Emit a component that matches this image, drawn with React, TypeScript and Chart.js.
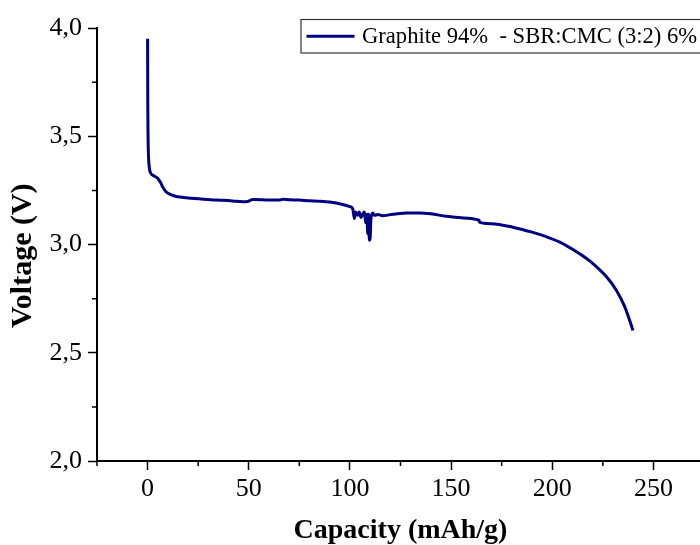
import React, { useEffect, useRef } from 'react';
import { Chart, registerables } from 'chart.js';

Chart.register(...registerables);

const capacity = [
  0, 0.05, 0.1, 0.2, 0.4, 0.8, 1.5, 3, 5, 6.5, 7.5, 9, 10.7, 13, 15.7, 20, 25.6, 31, 37, 42, 47, 49.5, 52,
  55, 60, 65, 67, 70, 75, 80, 85, 90, 96.4, 100, 101.4, 102.2, 102.8, 103.9, 104.6, 105.5, 106.3, 107.2,
  107.8, 108.4, 108.8, 109.3, 109.6, 110, 110.4, 111.3, 112.2, 113.8, 116.2, 120, 127.8, 134.4, 140, 147.6,
  155, 163.8, 164.2, 170, 180.5, 190, 197, 204, 210.2, 215, 220.1, 226.7, 231.6, 235.8, 238.2, 239.9,
];
const voltage = [
  3.95, 3.8, 3.65, 3.52, 3.42, 3.36, 3.33, 3.318, 3.306, 3.285, 3.265, 3.245, 3.234, 3.225, 3.219, 3.215,
  3.211, 3.207, 3.204, 3.201, 3.197, 3.199, 3.208, 3.207, 3.205, 3.205, 3.209, 3.207, 3.205, 3.202, 3.2,
  3.196, 3.185, 3.175, 3.165, 3.12, 3.15, 3.135, 3.15, 3.125, 3.14, 3.15, 3.1, 3.14, 3.05, 3.14, 3.02, 3.03,
  3.12, 3.145, 3.135, 3.138, 3.133, 3.138, 3.145, 3.146, 3.142, 3.13, 3.123, 3.112, 3.102, 3.096, 3.08,
  3.057, 3.036, 3.01, 2.977, 2.948, 2.912, 2.852, 2.79, 2.713, 2.651, 2.603,
];
const seriesLabel = 'Graphite 94%  - SBR:CMC (3:2) 6%';
const xTicks = [0, 50, 100, 150, 200, 250];
const yTicks = [2.0, 2.5, 3.0, 3.5, 4.0];
const xMinorTicks = [-25, 25, 75, 125, 175, 225, 275];
const yMinorTicks = [2.25, 2.75, 3.25, 3.75];

const LINE_COLOR = '#000080';
const SERIF = '"Liberation Serif", "Times New Roman", serif';

const minorTickPlugin = {
  id: 'minorTicks',
  afterDraw(chart: any) {
    const { ctx, chartArea, scales } = chart;
    const x = scales.x;
    const y = scales.y;
    ctx.save();
    ctx.strokeStyle = '#000';
    ctx.lineWidth = 1.5;
    ctx.beginPath();
    for (const v of xMinorTicks) {
      const px = x.getPixelForValue(v);
      ctx.moveTo(px, chartArea.bottom);
      ctx.lineTo(px, chartArea.bottom + 5);
    }
    for (const v of yMinorTicks) {
      const py = y.getPixelForValue(v);
      ctx.moveTo(chartArea.left, py);
      ctx.lineTo(chartArea.left - 5, py);
    }
    ctx.stroke();
    ctx.restore();
  },
};

const legendPlugin = {
  id: 'boxLegend',
  afterDraw(chart: any) {
    const { ctx, chartArea } = chart;
    const bx = chartArea.left + 204;
    const by = chartArea.top - 8.5;
    const bh = 33.5;
    ctx.save();
    ctx.fillStyle = '#fff';
    ctx.fillRect(bx, by, 430, bh);
    ctx.strokeStyle = '#333';
    ctx.lineWidth = 1.2;
    ctx.strokeRect(bx, by, 430, bh);
    ctx.strokeStyle = LINE_COLOR;
    ctx.lineWidth = 3;
    ctx.beginPath();
    ctx.moveTo(bx + 5.5, by + bh / 2);
    ctx.lineTo(bx + 53.5, by + bh / 2);
    ctx.stroke();
    ctx.fillStyle = '#000';
    ctx.font = `22.6px ${SERIF}`;
    ctx.textBaseline = 'middle';
    ctx.textAlign = 'left';
    ctx.fillText(chart.data.datasets[0].label, bx + 61, by + bh / 2 + 1);
    ctx.restore();
  },
};

export default function App() {
  const canvasRef = useRef<HTMLCanvasElement | null>(null);

  useEffect(() => {
    if (!canvasRef.current) return;
    const points = capacity.map((c, i) => ({ x: c, y: voltage[i] }));
    const chart = new Chart(canvasRef.current, {
      type: 'line',
      data: {
        datasets: [
          {
            label: seriesLabel,
            data: points,
            borderColor: LINE_COLOR,
            backgroundColor: LINE_COLOR,
            borderWidth: 3,
            pointRadius: 0,
            cubicInterpolationMode: 'monotone',
            fill: false,
          },
        ],
      },
      options: {
        responsive: false,
        animation: false,
        layout: { padding: { top: 28, right: 16, left: 0, bottom: 0 } },
        plugins: {
          legend: { display: false },
          tooltip: { enabled: false },
        },
        scales: {
          x: {
            type: 'linear',
            min: -25,
            max: 275,
            afterBuildTicks: (scale: any) => {
              scale.ticks = xTicks.map((v) => ({ value: v }));
            },
            afterFit: (scale: any) => {
              scale.height = 84;
            },
            ticks: {
              color: '#000',
              padding: 4,
              maxRotation: 0,
              autoSkip: false,
              font: { family: SERIF, size: 26 },
            },
            grid: {
              display: true,
              drawOnChartArea: false,
              drawTicks: true,
              tickLength: 9,
              tickColor: '#000',
              tickWidth: 1.5,
            },
            border: { display: true, color: '#000', width: 2 },
            title: {
              display: true,
              text: 'Capacity (mAh/g)',
              color: '#000',
              font: { family: SERIF, size: 28, weight: 'bold', lineHeight: 1 },
              padding: { top: 0, bottom: 0 },
            },
          },
          y: {
            type: 'linear',
            min: 2,
            max: 4,
            afterBuildTicks: (scale: any) => {
              scale.ticks = yTicks.map((v) => ({ value: v }));
            },
            afterFit: (scale: any) => {
              scale.width = 97;
            },
            ticks: {
              color: '#000',
              padding: 6,
              autoSkip: false,
              font: { family: SERIF, size: 26 },
              callback: (v: any) => Number(v).toFixed(1).replace('.', ','),
            },
            grid: {
              display: true,
              drawOnChartArea: false,
              drawTicks: true,
              tickLength: 9,
              tickColor: '#000',
              tickWidth: 1.5,
            },
            border: { display: true, color: '#000', width: 2 },
            title: {
              display: true,
              text: 'Voltage (V)   ',
              color: '#000',
              font: { family: SERIF, size: 30, weight: 'bold', lineHeight: 1 },
              padding: { top: 8, bottom: 0 },
            },
          },
        },
      },
      plugins: [minorTickPlugin, legendPlugin],
    });
    return () => chart.destroy();
  }, []);

  return (
    <div
      style={{
        position: 'fixed',
        left: 0,
        top: 0,
        width: 700,
        height: 545,
        overflow: 'hidden',
        background: '#fff',
      }}
    >
      <canvas ref={canvasRef} width={720} height={545} style={{ display: 'block' }} />
    </div>
  );
}
